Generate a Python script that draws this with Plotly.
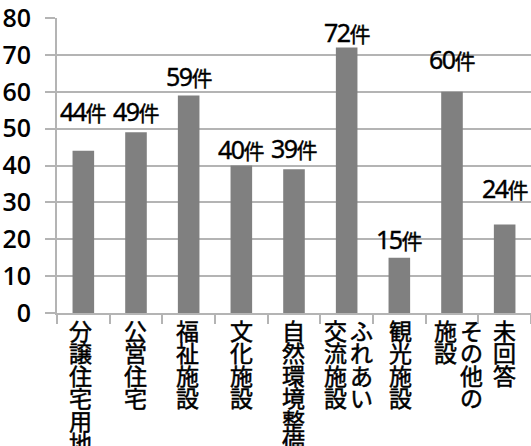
import plotly.graph_objects as go

# Facility categories; each label is set vertically, columns listed right-to-left
categories = ["分譲住宅用地", "公営住宅", "福祉施設", "文化施設", "自然環境整備",
              "ふれあい交流施設", "観光施設", "その他の施設", "未回答"]
label_columns = [["分譲住宅用地"], ["公営住宅"], ["福祉施設"], ["文化施設"], ["自然環境整備"],
                 ["ふれあい", "交流施設"], ["観光施設"], ["その他の", "施設"], ["未回答"]]
counts = [44, 49, 59, 40, 39, 72, 15, 60, 24]
unit = "件"
y_ticks = [0, 10, 20, 30, 40, 50, 60, 70, 80]

# pixel lift of each value label above its bar top
label_lift = [40, 21, 19, 17, 21, 16, 19, 33, 37]
# horizontal nudge (px) of each vertical category label
label_shift = [-3, -1, -1, 0, -1, 1.5, 1, 6, 0]

GRID = "#b4b4b4"
BAR = "#808080"

fig = go.Figure()
fig.add_trace(go.Bar(
    x=categories, y=counts,
    marker=dict(color=BAR, line=dict(width=0)),
    hoverinfo="skip",
))

annotations = []
# value labels above bars (tight digits, smaller unit glyph)
for cat, v, lift in zip(categories, counts, label_lift):
    annotations.append(dict(
        x=cat, y=v, xref="x", yref="y",
        text=(f"<span style='letter-spacing:-1.6px;stroke:black;stroke-width:0.4px'>{v}</span>"
              f"<span style='font-family:Noto Sans CJK JP;font-size:21px;"
              f"stroke:black;stroke-width:0.4px'>{unit}</span>"),
        showarrow=False, yanchor="middle", yshift=lift,
        font=dict(family="Noto Sans", size=25, color="black"),
    ))

# vertical category labels, one annotation per character
pitch = 22.4
col_gap = 26
for cat, cols, shift in zip(categories, label_columns, label_shift):
    n = len(cols)
    for j, col in enumerate(cols):
        # first column sits rightmost
        xs = (n - 1) / 2 * col_gap - j * col_gap + shift
        for k, ch in enumerate(col):
            annotations.append(dict(
                x=cat, y=0, xref="x", yref="paper",
                text=f"<span style='stroke:black;stroke-width:0.5px'>{ch}</span>",
                showarrow=False,
                xanchor="center", yanchor="middle",
                xshift=xs, yshift=-17 - k * pitch,
                font=dict(family="Noto Sans CJK JP", size=23, color="black"),
            ))

fig.update_layout(
    width=531, height=446,
    margin=dict(l=57, r=0, t=18, b=133),
    plot_bgcolor="white", paper_bgcolor="white",
    bargap=0.59,
    showlegend=False,
    annotations=annotations,
    xaxis=dict(
        type="category", range=[-0.5, len(categories) - 0.5],
        showticklabels=False,
        ticks="outside", tickson="boundaries", ticklen=9,
        tickcolor=GRID, tickwidth=2,
        showline=True, linecolor=GRID, linewidth=2,
        showgrid=False,
    ),
    yaxis=dict(
        range=[0, 80], tickvals=y_ticks,
        tickfont=dict(family="Open Sans", size=25, color="black", weight=600),
        ticks="outside", ticklen=10, tickcolor=GRID, tickwidth=2,
        ticklabelstandoff=9, ticklabeloverflow="allow",
        showline=True, linecolor=GRID, linewidth=2,
        showgrid=True, gridcolor=GRID, gridwidth=2,
        zeroline=False,
    ),
)

fig.write_html("out.html")
